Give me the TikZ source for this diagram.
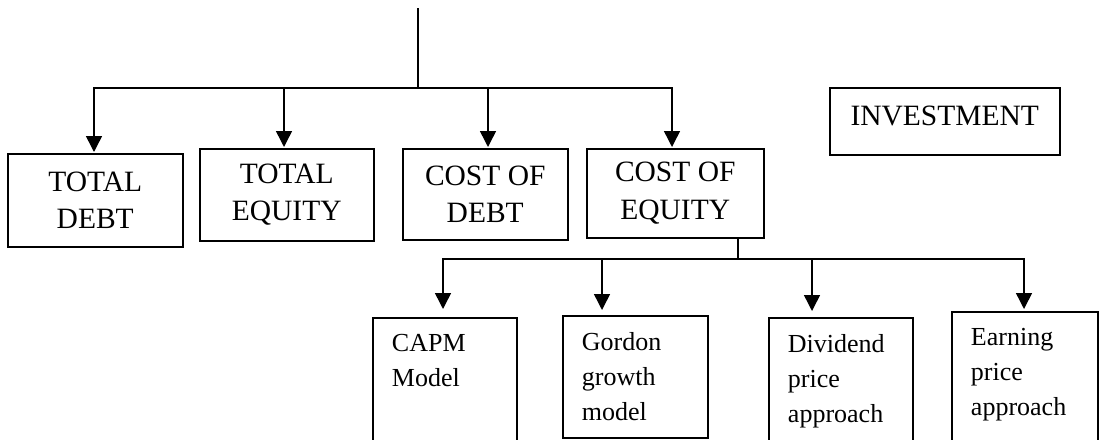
\documentclass[tikz,border=0pt]{standalone}
\usepackage{fontspec}
\setmainfont{Liberation Serif}
\usetikzlibrary{arrows.meta}
\tikzset{
  conn/.style={line width=1.5pt},
  arr/.style={conn,-{Triangle[width=16pt,length=16pt]}},
  topbox/.style={draw,line width=1.5pt,anchor=north west,inner sep=0pt,align=center,
    font=\fontsize{29.5}{37.5}\selectfont},
  lowbox/.style={draw,line width=1.5pt,anchor=north west,inner xsep=19.2pt,inner ysep=16.5pt,
    font=\fontsize{26}{35}\selectfont},
}
\newcommand\lowtext[3]{\begin{minipage}[t][#1][t]{#2}\raggedright #3\end{minipage}}
\begin{document}
\begin{tikzpicture}[x=1pt,y=-1pt]
\path[fill=white] (0,0) rectangle (1099,439);
\useasboundingbox (0,0) rectangle (1099,439);
\clip (0,0) rectangle (1099,439);

% first level boxes
\node[topbox,minimum width=175pt,minimum height=93pt] (td) at (7,153) {TOTAL\\DEBT};
\node[topbox,minimum width=174pt,minimum height=92pt] (te) at (199,148) {TOTAL\\EQUITY};
\node[topbox,minimum width=165pt,minimum height=91pt] (cd) at (402,148) {COST OF\\DEBT};
\node[topbox,minimum width=177pt,minimum height=89pt] (ce) at (586,148) {COST OF\\EQUITY};
\node[topbox,minimum width=230pt,minimum height=67pt,text depth=11pt] (inv) at (829,87) {INVESTMENT};

% second level boxes
\node[lowbox] (capm) at (372,317) {\lowtext{140pt}{105.6pt}{CAPM\\Model}};
\node[lowbox] (gordon) at (562,315) {\lowtext{89pt}{106.6pt}{Gordon\\growth\\model}};
\node[lowbox] (div) at (768,317) {\lowtext{140pt}{105.6pt}{Dividend\\price\\approach}};
\node[lowbox] (earn) at (951,311) {\lowtext{140pt}{107.6pt}{Earning\\price\\approach}};

% first level connectors
\coordinate (top) at (418,8);
\coordinate (bus) at (418,88);
\coordinate (b1) at (94,88);
\coordinate (b2) at (284,88);
\coordinate (b3) at (488,88);
\coordinate (b4) at (672,88);
\draw[conn] (top) -- (bus);
\draw[arr,shorten >=1pt] (bus) -| (b1 |- td.north);
\draw[arr,shorten >=1pt] (bus) -| (b4 |- ce.north);
\draw[arr,shorten >=1pt] (b2) -- (b2 |- te.north);
\draw[arr,shorten >=1pt] (b3) -- (b3 |- cd.north);

% second level connectors
\coordinate (k) at (738,259);
\coordinate (c1) at (443,259);
\coordinate (c2) at (602,259);
\coordinate (c3) at (812,259);
\coordinate (c4) at (1024,259);
\draw[conn] (ce.south -| k) -- (k);
\draw[arr,shorten >=8pt] (k) -| (c1 |- capm.north);
\draw[arr,shorten >=2pt] (k) -| (c4 |- earn.north);
\draw[arr,shorten >=5pt] (c2) -- (c2 |- gordon.north);
\draw[arr,shorten >=6pt] (c3) -- (c3 |- div.north);
\end{tikzpicture}
\end{document}
